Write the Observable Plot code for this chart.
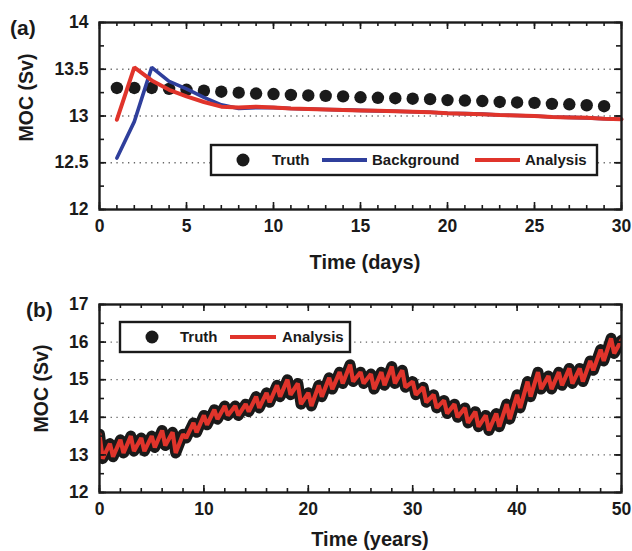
<!DOCTYPE html>
<html><head><meta charset="utf-8">
<script src="https://cdn.jsdelivr.net/npm/d3@7"></script>
<script src="https://cdn.jsdelivr.net/npm/@observablehq/plot@0.6"></script>
<style>
body{margin:0;background:#fff}
#chart svg{display:block}
</style>
</head><body><div id="chart"></div>
<script>
// ---------- Panel (a): days ----------
const daysTruth = [1,2,3,4,5,6,7,8,9,10,11,12,13,14,15,16,17,18,19,20,21,22,23,24,25,26,27,28,29];
const truthA = [13.30,13.30,13.30,13.29,13.28,13.27,13.26,13.25,13.24,13.235,13.225,13.22,13.215,13.21,13.20,13.195,13.19,13.185,13.18,13.17,13.165,13.16,13.15,13.145,13.14,13.13,13.125,13.115,13.105];
const daysModel = [1,2,3,4,5,6,7,8,9,10,11,12,13,14,15,16,17,18,19,20,21,22,23,24,25,26,27,28,29,30];
const backgroundA = [12.55,12.94,13.52,13.37,13.29,13.20,13.12,13.08,13.09,13.09,13.08,13.075,13.07,13.065,13.06,13.055,13.05,13.045,13.04,13.03,13.025,13.02,13.01,13.005,13.00,12.99,12.985,12.98,12.97,12.965];
const analysisA = [12.96,13.52,13.38,13.28,13.21,13.15,13.10,13.09,13.10,13.09,13.08,13.075,13.07,13.065,13.06,13.055,13.05,13.045,13.04,13.03,13.025,13.02,13.01,13.005,13.00,12.99,12.985,12.98,12.97,12.965];
const xTicksA = [0,5,10,15,20,25,30];
const yTicksA = [12,12.5,13,13.5,14];
const yTickLabelsA = ["12","12.5","13","13.5","14"];
const gridA = [12.5,13,13.5];

// ---------- Panel (b): years (annual peaks at year n, troughs shortly after) ----------
const peakYears = [0,1,2,3,4,5,6,7,8,9,10,11,12,13,14,15,16,17,18,19,20,21,22,23,24,25,26,27,28,29,30,31,32,33,34,35,36,37,38,39,40,41,42,43,44,45,46,47,48,49,50];
const peaksB = [13.55,13.30,13.40,13.50,13.45,13.50,13.65,13.60,13.55,13.85,14.05,14.20,14.30,14.30,14.35,14.55,14.65,14.85,15.00,14.90,14.65,14.85,15.05,15.20,15.40,15.20,15.15,15.20,15.35,15.25,14.95,14.80,14.60,14.45,14.35,14.25,14.15,14.05,14.10,14.35,14.60,14.95,15.20,15.10,15.20,15.30,15.30,15.50,15.80,16.10,16.05];
const troughYears = [0.3,1.3,2.3,3.3,4.3,5.3,6.3,7.3,8.3,9.3,10.3,11.3,12.3,13.3,14.3,15.3,16.3,17.3,18.3,19.3,20.3,21.3,22.3,23.3,24.3,25.3,26.3,27.3,28.3,29.3,30.3,31.3,32.3,33.3,34.3,35.3,36.3,37.3,38.3,39.3,40.3,41.3,42.3,43.3,44.3,45.3,46.3,47.3,48.3,49.3];
const troughsB = [12.90,12.95,13.05,13.10,13.10,13.20,13.25,13.05,13.45,13.60,13.80,13.95,14.05,14.05,14.15,14.25,14.40,14.55,14.60,14.35,14.30,14.55,14.75,14.90,14.95,14.90,14.75,14.85,14.90,14.80,14.60,14.40,14.25,14.10,14.00,13.85,13.75,13.65,13.75,13.95,14.25,14.55,14.75,14.75,14.85,14.90,14.95,15.25,15.50,15.70];
const xTicksB = [0,10,20,30,40,50];
const yTicksB = [12,13,14,15,16,17];
const gridB = [13,14,15,16];

// build tables
const truthTableA = daysTruth.map((d,i)=>({day:d, v:truthA[i]}));
const bgTableA = daysModel.map((d,i)=>({day:d, v:backgroundA[i]}));
const anTableA = daysModel.map((d,i)=>({day:d, v:analysisA[i]}));
const seriesB = [];
peakYears.forEach((t,i)=>{ seriesB.push({t, v:peaksB[i]}); if (i < troughYears.length) seriesB.push({t:troughYears[i], v:troughsB[i]}); });
seriesB.sort((a,b)=>a.t-b.t);
const truthB = seriesB.map(d=>({t:d.t, v:d.v}));
const analysisB = seriesB.map(d=>({t:d.t, v:d.v}));

const FONT = "'Liberation Sans', Arial, Helvetica, sans-serif";
const INK = "#1a1a1a";
const BLUE = "#2f3f9c";
const RED = "#e0342b";

function range(a,b,s){const r=[];for(let v=a;v<=b+1e-9;v+=s)r.push(+v.toFixed(4));return r;}

function ticksMarks(xMinor, xMajor, yMinor, yMajor, plotW, plotH){
  const st = {stroke: INK, strokeWidth: 1.6};
  return [
    Plot.tickX(xMinor, {x: d=>d, insetTop: plotH-4, ...st}),
    Plot.tickX(xMinor, {x: d=>d, insetBottom: plotH-4, ...st}),
    Plot.tickX(xMajor, {x: d=>d, insetTop: plotH-7, ...st}),
    Plot.tickX(xMajor, {x: d=>d, insetBottom: plotH-7, ...st}),
    Plot.tickY(yMinor, {y: d=>d, insetRight: plotW-5, ...st}),
    Plot.tickY(yMinor, {y: d=>d, insetLeft: plotW-5, ...st}),
    Plot.tickY(yMajor, {y: d=>d, insetRight: plotW-7, ...st}),
    Plot.tickY(yMajor, {y: d=>d, insetLeft: plotW-7, ...st}),
  ];
}

const W = 632;
// ----- Panel (a)
const mA = {top:22, bottom:71, left:99, right:11};
const hA = 280;
const plotWA = W - mA.left - mA.right, plotHA = hA - mA.top - mA.bottom;
const chartA = Plot.plot({
  width: W, height: hA,
  marginTop: mA.top, marginBottom: mA.bottom, marginLeft: mA.left, marginRight: mA.right,
  style: {fontFamily: FONT, fontWeight: "bold", color: INK, background: "#fff", overflow: "visible"},
  x: {domain: [0,30]},
  y: {domain: [12,14]},
  marks: [
    Plot.ruleY(gridA, {y: d=>d, stroke: "#666", strokeWidth: 1.3, strokeDasharray: "1.3,4.5"}),
    Plot.dot(truthTableA, {x: "day", y: "v", r: 6.2, fill: INK, stroke: "none"}),
    Plot.line(bgTableA, {x: "day", y: "v", stroke: BLUE, strokeWidth: 3.6, strokeLinejoin: "miter"}),
    Plot.line(anTableA, {x: "day", y: "v", stroke: RED, strokeWidth: 4, strokeLinejoin: "miter"}),
    ...ticksMarks(range(0,30,1), xTicksA, range(12,14,0.25), yTicksA, plotWA, plotHA),
    Plot.axisX(xTicksA, {anchor: "bottom", tickSize: 0, tickPadding: 10, fontSize: 17.5, label: null, fill: INK}),
    Plot.axisY(yTicksA, {anchor: "left", tickSize: 0, tickPadding: 11, fontSize: 17.5, label: null, fill: INK, tickFormat: (d)=>yTickLabelsA[yTicksA.indexOf(d)]}),
    Plot.frame({stroke: INK, strokeWidth: 2.4}),
  ]
});

// ----- Panel (b)
const mB = {top:24, bottom:59, left:99, right:11};
const hB = 271;
const plotWB = W - mB.left - mB.right, plotHB = hB - mB.top - mB.bottom;
const chartB = Plot.plot({
  width: W, height: hB,
  marginTop: mB.top, marginBottom: mB.bottom, marginLeft: mB.left, marginRight: mB.right,
  style: {fontFamily: FONT, fontWeight: "bold", color: INK, background: "#fff", overflow: "visible"},
  x: {domain: [0,50]},
  y: {domain: [12,17]},
  marks: [
    Plot.ruleY(gridB, {y: d=>d, stroke: "#666", strokeWidth: 1.3, strokeDasharray: "1.3,4.5"}),
    Plot.line(truthB, {x: "t", y: "v", stroke: INK, strokeWidth: 11, strokeLinejoin: "round", strokeLinecap: "round", clip: true}),
    Plot.line(analysisB, {x: "t", y: "v", stroke: RED, strokeWidth: 4.2, strokeLinejoin: "miter", clip: true}),
    ...ticksMarks(range(0,50,2), xTicksB, range(12,17,0.5), yTicksB, plotWB, plotHB),
    Plot.axisX(xTicksB, {anchor: "bottom", tickSize: 0, tickPadding: 10, fontSize: 17.5, label: null, fill: INK}),
    Plot.axisY(yTicksB, {anchor: "left", tickSize: 0, tickPadding: 11, fontSize: 17.5, label: null, fill: INK}),
    Plot.frame({stroke: INK, strokeWidth: 2.4}),
  ]
});

// ----- Titles and legends (pixel layout inside each SVG)
function addText(svgNode, x, y, text, size, rotate, anchor){
  const t = d3.select(svgNode).append("text")
    .attr("font-family", FONT).attr("font-weight", "bold").attr("font-size", size)
    .attr("fill", INK).attr("text-anchor", anchor || "middle").attr("dy", "0.36em")
    .attr("transform", `translate(${x},${y})` + (rotate ? ` rotate(${rotate})` : ""))
    .text(text);
  return t;
}
function addLegend(svgNode, box, items){
  const g = d3.select(svgNode).append("g").attr("font-family", FONT).attr("font-weight", "bold").attr("font-size", 15).attr("text-anchor", "start");
  g.append("rect").attr("x", box.x).attr("y", box.y).attr("width", box.w).attr("height", box.h)
    .attr("fill", "#fff").attr("stroke", INK).attr("stroke-width", 2.4);
  const cy = box.y + box.h/2;
  for (const it of items){
    if (it.type === "dot") g.append("circle").attr("cx", it.x).attr("cy", cy).attr("r", it.r).attr("fill", INK);
    if (it.type === "line") g.append("line").attr("x1", it.x).attr("x2", it.x2).attr("y1", cy).attr("y2", cy).attr("stroke", it.color).attr("stroke-width", 4.2);
    if (it.type === "text") g.append("text").attr("x", it.x).attr("y", cy).attr("dy", "0.36em").attr("text-anchor", "start").attr("fill", INK).text(it.text);
  }
}
addText(chartA, 10, 27, "(a)", 21, 0, "start");
addText(chartA, 26, 97.5, "MOC (Sv)", 19.5, -90, "middle");
addText(chartA, 365, 262, "Time (days)", 20, 0, "middle");
addLegend(chartA, {x:211, y:145, w:386, h:30}, [
  {type:"dot", x:243, r:6.5},
  {type:"text", x:272, text:"Truth"},
  {type:"line", x:322, x2:367, color:BLUE},
  {type:"text", x:372, text:"Background"},
  {type:"line", x:475, x2:520, color:RED},
  {type:"text", x:525, text:"Analysis"},
]);

addText(chartB, 26, 29, "(b)", 21, 0, "start");
addText(chartB, 41, 108.5, "MOC (Sv)", 19.5, -90, "middle");
addText(chartB, 370, 259, "Time (years)", 20, 0, "middle");
addLegend(chartB, {x:120, y:42, w:230, h:30}, [
  {type:"dot", x:152, r:6.5},
  {type:"text", x:180, text:"Truth"},
  {type:"line", x:230, x2:276, color:RED},
  {type:"text", x:282, text:"Analysis"},
]);

document.getElementById("chart").append(chartA, chartB);
</script>
</body></html>
